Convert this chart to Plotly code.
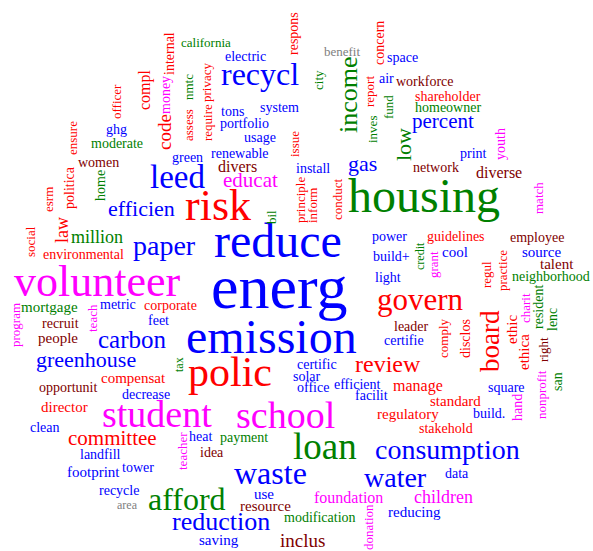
import plotly.graph_objects as go

# word, x, y, font size, colour key, rotation (0 horizontal, -90 vertical)
words = ["energ","emission","reduce","housing","polic","volunteer","risk","student","school","loan",
         "leed","recycl","waste","afford","govern","water","paper","consumption","reduction","carbon",
         "review","gas","efficien","greenhouse","percent","educat","committee","inclus","children","million",
         "divers","diverse","manage","foundation","director","standard","regulatory","reducing","compensat","mortgage",
         "people","opportunit","recycle","saving","resource","source","talent","cool","neighborhood","footprint",
         "shareholder","homeowner","stakehold","guidelines","corporate","leader","certifie","certific","solar","office",
         "efficient","facilit","square","build.","data","payment","heat","idea","use","modification",
         "landfill","tower","clean","area","decrease","feet","metric","recruit","environmental","moderate",
         "women","green","ghg","renewable","install","usage","tons","system","portfolio","electric",
         "california","benefit","space","air","workforce","network","print","power","build+","light",
         "employee",
         "income","board","low","code","law","compl","ethic","ethica","hand","internal",
         "money","officer","nmtc","assess","ensure","home","politica","esrm","social","privacy",
         "require","respons","city","concern","report","fund","inves","youth","issue","principle",
         "inform","conduct","bil","match","credit","grant","regul","practice","comply","disclos",
         "charit","resident","lenc","right","san","nonprofit","program","teach","tax","teacher",
         "donation"]

word_x = [279,271,278,424,230,97,218,157,285,325,
          177,260,270,187,420,395,164,447,221,132,
          388,362,141,86,443,250,112,302,443,97,
          237,499,418,348,64,455,408,414,133,49,
          58,68,119,219,265,541,557,455,551,93,
          448,448,446,456,170,411,404,317,307,313,
          357,371,506,489,457,244,200,212,264,320,
          100,138,45,127,146,158,118,60,83,117,
          98,187,116,240,313,260,232,279,244,245,
          206,342,402,386,425,436,473,389,391,388,
          537,
          348,490,403,164,62,145,512,524,517,169,
          165,116,188,188,72,100,69,48,30,206,
          207,293,318,379,369,388,372,500,294,300,
          312,337,271,538,420,433,486,502,443,465,
          525,538,552,543,557,541,15,92,179,182,
          368]

word_y = [287,336,240,195,372,281,205,414,415,446,
          177,74,473,499,299,477,245,449,521,339,
          364,163,208,359,121,180,438,540,497,237,
          166,172,386,497,407,401,414,512,378,307,
          338,387,490,540,506,252,264,252,276,472,
          96,107,428,236,305,326,340,364,376,387,
          384,395,387,413,473,437,436,452,494,517,
          454,467,427,505,394,320,304,323,254,143,
          162,157,129,153,168,137,111,107,123,56,
          42,51,57,78,81,167,153,236,256,277,
          237,
          95,341,145,132,230,90,330,352,408,54,
          95,102,87,125,138,186,188,200,242,83,
          123,34,80,43,92,107,130,144,144,200,
          206,199,217,198,256,265,275,271,339,339,
          308,307,320,350,382,395,325,318,365,451,
          527]

word_size = [62,48,48,48,42,44,44,38,38,37,
             33,32,32,32,31,28,28,28,26,25,
             24,22,22,22,21,21,21,19,18,18,
             16,16,16,16,15,15,15,15,15,15,
             15,14,14,15,15,15,15,15,14,15,
             14,14,14,14,14,14,14,14,14,14,
             14,14,14,14,14,14,14,14,15,14,
             14,14,14,12,14,14,14,14,14,14,
             14,14,14,14,14,14,14,14,14,14,
             13,13,14,14,14,14,14,14,14,14,
             14,
             26,27,22,19,18,16,15,15,14,14,
             14,13,13,13,13,14,14,13,13,13,
             13,14,13,14,13,13,13,14,13,13,
             13,13,13,13,12,13,13,13,13,14,
             13,14,14,13,14,13,13,13,12,13,
             13]

word_color = ["b","b","b","g","r","m","r","m","m","g",
              "b","b","b","g","r","b","b","b","b","b",
              "r","b","b","b","b","m","r","d","m","g",
              "d","d","r","m","r","r","r","b","r","g",
              "d","d","b","b","d","b","d","b","g","b",
              "r","g","r","r","r","d","b","b","b","b",
              "b","b","b","b","b","g","b","d","b","g",
              "b","b","b","y","b","b","b","d","r","g",
              "d","b","b","b","b","b","b","b","b","b",
              "g","y","b","b","d","d","b","b","b","b",
              "d",
              "g","r","g","r","r","r","r","r","m","r",
              "m","r","g","r","r","g","r","r","r","r",
              "r","r","g","r","r","g","g","m","r","r",
              "r","r","g","m","g","m","r","r","r","r",
              "m","g","g","d","g","m","m","m","g","m",
              "m"]

n_horizontal = 101
word_angle = [0] * n_horizontal + [-90] * (len(words) - n_horizontal)

palette = {"b": "#0000ff", "r": "#ff0000", "g": "#008000", "m": "#ff00ff",
           "d": "#800000", "y": "#808080"}

fig = go.Figure()
fig.add_trace(go.Scatter(x=[0, 593], y=[0, 551], mode="markers",
                         marker=dict(opacity=0), hoverinfo="skip", showlegend=False))

for w, x, y, s, c, a in zip(words, word_x, word_y, word_size, word_color, word_angle):
    fig.add_annotation(x=x, y=y, xref="x", yref="y", text=w, showarrow=False,
                       textangle=a, xanchor="center", yanchor="middle",
                       font=dict(family="Liberation Serif, Times New Roman, serif",
                                 size=s, color=palette[c]))

fig.update_layout(width=593, height=551, margin=dict(l=0, r=0, t=0, b=0),
                  paper_bgcolor="white", plot_bgcolor="white", showlegend=False)
fig.update_xaxes(range=[0, 593], visible=False, fixedrange=True)
fig.update_yaxes(range=[551, 0], visible=False, fixedrange=True)

fig.write_html("out.html", config={"displayModeBar": False},
               post_script="document.body.style.margin='0';document.body.style.overflow='hidden';")
